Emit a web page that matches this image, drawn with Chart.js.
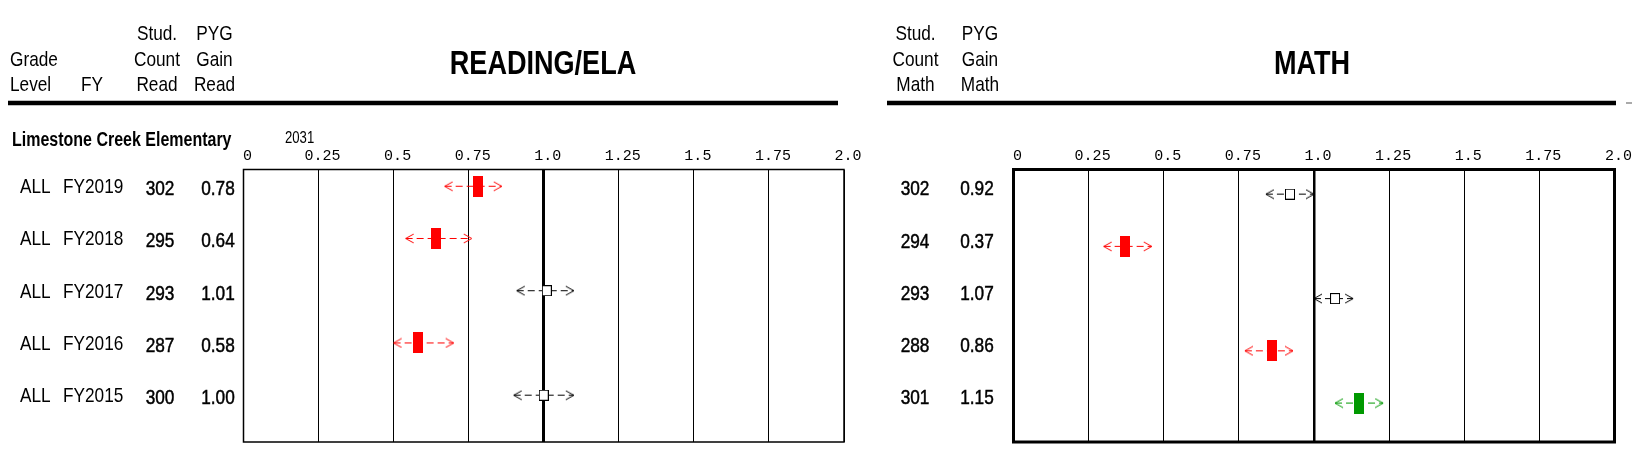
<!DOCTYPE html>
<html>
<head>
<meta charset="utf-8">
<script src="https://cdn.jsdelivr.net/npm/chart.js@4.4.1/dist/chart.umd.min.js"></script>
<style>
  html, body { margin: 0; padding: 0; background: #fff; }
  #wrap { position: relative; width: 1632px; height: 472px; }
  #wrap canvas { position: absolute; left: 0; top: 0; }
</style>
</head>
<body>
<div id="wrap">
  <canvas id="readingChart" width="1632" height="472"></canvas>
  <canvas id="mathChart" width="1632" height="472"></canvas>
</div>
<script>
// rows, top to bottom
const gradeLevels = ['ALL', 'ALL', 'ALL', 'ALL', 'ALL'];
const fiscalYears = ['FY2019', 'FY2018', 'FY2017', 'FY2016', 'FY2015'];

const readCounts = [302, 295, 293, 287, 300];
const readGain = [0.78, 0.64, 1.01, 0.58, 1.00];
const readLow = [0.67, 0.54, 0.91, 0.50, 0.90];
const readHigh = [0.86, 0.76, 1.10, 0.70, 1.10];
const readStatus = ['below', 'below', 'met', 'below', 'met'];

const mathCounts = [302, 294, 293, 288, 301];
const mathGain = [0.92, 0.37, 1.07, 0.86, 1.15];
const mathLow = [0.84, 0.30, 1.00, 0.77, 1.07];
const mathHigh = [1.00, 0.46, 1.13, 0.93, 1.23];
const mathStatus = ['met', 'below', 'met', 'below', 'above'];

const tickValues = [0, 0.25, 0.5, 0.75, 1.0, 1.25, 1.5, 1.75, 2.0];
const tickLabels = ['0', '0.25', '0.5', '0.75', '1.0', '1.25', '1.5', '1.75', '2.0'];

// no Arial Narrow here, so squeeze Liberation Sans sideways
const SANS = "'Liberation Sans', Arial, sans-serif";
const SQUEEZE = 0.82;
const MONO = "'Liberation Mono', 'DejaVu Sans Mono', monospace";
const statusColor = { below: '#ff0000', met: '#000000', above: '#009900' };

// little "<" and ">" heads, tip sits on the canvas centre
function chevron(dir, color) {
    const c = document.createElement('canvas');
    c.width = 18; c.height = 11;
    const g = c.getContext('2d');
    g.strokeStyle = color;
    g.lineWidth = 1;
    g.beginPath();
    if (dir === 'left') {
        g.moveTo(17, 1); g.lineTo(9, 5.5); g.lineTo(17, 10);
    } else {
        g.moveTo(1, 1); g.lineTo(9, 5.5); g.lineTo(1, 10);
    }
    g.stroke();
    return c;
}

function markerBox(status) {
    const c = document.createElement('canvas');
    const g = c.getContext('2d');
    if (status === 'met') {
        c.width = 10; c.height = 11;
        g.fillStyle = '#fff';
        g.fillRect(0, 0, 10, 11);
        g.strokeStyle = '#000';
        g.lineWidth = 1;
        g.strokeRect(0.5, 0.5, 9, 10);
    } else {
        c.width = 10; c.height = 21;
        g.fillStyle = statusColor[status];
        g.fillRect(0, 0, 10, 21);
    }
    return c;
}

const chevrons = {};
const markers = {};
Object.keys(statusColor).forEach(s => {
    chevrons[s] = { left: chevron('left', statusColor[s]), right: chevron('right', statusColor[s]) };
    markers[s] = markerBox(s);
});

function squeezedText(ctx, txt, x, y, heavy) {
    ctx.save();
    ctx.translate(x, y);
    ctx.scale(SQUEEZE, 1);
    ctx.fillText(txt, 0, 0);
    if (heavy) {
        ctx.lineWidth = 0.5;
        ctx.strokeText(txt, 0, 0);
    }
    ctx.restore();
}

const decorPlugin = {
    id: 'decor',
    afterDraw(chart, args, opts) {
        const ctx = chart.ctx;
        const a = chart.chartArea;
        ctx.save();
        (opts.rules || []).forEach(r => {
            ctx.fillStyle = r.color || '#000';
            ctx.fillRect(r.x1, r.y - r.w / 2, r.x2 - r.x1, r.w);
        });
        ctx.fillStyle = '#000';
        ctx.strokeStyle = '#000';
        (opts.texts || []).forEach(t => {
            ctx.font = t.font;
            ctx.textAlign = t.align || 'left';
            ctx.textBaseline = 'alphabetic';
            squeezedText(ctx, t.text, t.x, t.y, false);
        });
        ctx.lineWidth = opts.frameWidth;
        ctx.strokeRect(a.left, a.top, a.right - a.left, a.bottom - a.top);

        const y = chart.scales.y;
        (opts.columns || []).forEach(col => {
            ctx.font = col.font;
            ctx.textAlign = col.align;
            ctx.textBaseline = 'middle';
            col.values.forEach((v, i) => {
                const py = y.getPixelForValue(i) + opts.rowShift + (col.dy || 0);
                const txt = col.digits ? v.toFixed(col.digits) : String(v);
                squeezedText(ctx, txt, col.x, py, col.heavy);
            });
        });
        ctx.restore();
    }
};

function buildPanel(id, p) {
    const datasets = [{
        label: 'gain',
        data: p.gain.map((v, i) => ({ x: v, y: i })),
        pointStyle: ctx => markers[p.status[ctx.dataIndex]],
        pointRadius: 5,
        order: 0
    }];
    p.low.forEach((lo, i) => {
        const st = p.status[i];
        datasets.push({
            label: 'range' + i,
            data: [{ x: lo, y: i }, { x: p.high[i], y: i }],
            showLine: true,
            borderColor: statusColor[st],
            borderWidth: 1,
            borderDash: [7, 4],
            pointStyle: ctx => ctx.dataIndex === 0 ? chevrons[st].left : chevrons[st].right,
            pointRadius: 5,
            order: 1
        });
    });

    return new Chart(document.getElementById(id), {
        type: 'scatter',
        data: { datasets: datasets },
        options: {
            responsive: false,
            animation: false,
            events: [],
            layout: { padding: p.padding },
            plugins: {
                legend: { display: false },
                tooltip: { enabled: false },
                decor: {
                    texts: p.texts,
                    rules: p.rules,
                    columns: p.columns,
                    frameWidth: p.frameWidth,
                    rowShift: p.rowShift
                }
            },
            scales: {
                x: {
                    type: 'linear',
                    position: 'top',
                    min: 0,
                    max: 2,
                    afterBuildTicks: axis => { axis.ticks = tickValues.map(v => ({ value: v })); },
                    ticks: {
                        callback: (v, i) => tickLabels[i],
                        font: { family: MONO, size: 15 },
                        color: '#000',
                        padding: 4,
                        labelOffset: 4,
                        maxRotation: 0,
                        autoSkip: false
                    },
                    grid: {
                        color: '#000',
                        lineWidth: ctx => (ctx.tick && ctx.tick.value === 1) ? p.parWidth : 1,
                        drawTicks: false
                    },
                    border: { display: false }
                },
                y: {
                    type: 'linear',
                    display: false,
                    reverse: true,
                    min: p.yMin,
                    max: p.yMax
                }
            }
        },
        plugins: [decorPlugin]
    });
}

const hdr = '21px ' + SANS;
const rowFont = '21px ' + SANS;
const titleFont = 'bold 33px ' + SANS;

buildPanel('readingChart', {
    gain: readGain, low: readLow, high: readHigh, status: readStatus,
    padding: { left: 243.5, right: 1632 - 844, top: 143.5, bottom: 30 },
    yMin: -0.321, yMax: 4.896,
    frameWidth: 1.5, parWidth: 3, rowShift: 3,
    rules: [{ x1: 8, x2: 838, y: 103, w: 4.5 }],
    texts: [
        { text: 'Grade', x: 10, y: 65.5, font: hdr },
        { text: 'Level', x: 10, y: 91, font: hdr },
        { text: 'FY', x: 81, y: 91, font: hdr },
        { text: 'Stud.', x: 157, y: 40, font: hdr, align: 'center' },
        { text: 'Count', x: 157, y: 65.5, font: hdr, align: 'center' },
        { text: 'Read', x: 157, y: 91, font: hdr, align: 'center' },
        { text: 'PYG', x: 214.5, y: 40, font: hdr, align: 'center' },
        { text: 'Gain', x: 214.5, y: 65.5, font: hdr, align: 'center' },
        { text: 'Read', x: 214.5, y: 91, font: hdr, align: 'center' },
        { text: 'READING/ELA', x: 543, y: 74, font: titleFont, align: 'center' },
        { text: 'Limestone Creek Elementary', x: 12, y: 146, font: 'bold 19.5px ' + SANS },
        { text: '2031', x: 285, y: 143, font: '16px ' + SANS }
    ],
    columns: [
        { values: gradeLevels, x: 20, align: 'left', font: rowFont, dy: -2 },
        { values: fiscalYears, x: 63, align: 'left', font: rowFont, dy: -2 },
        { values: readCounts, x: 160, align: 'center', font: rowFont, heavy: true },
        { values: readGain, x: 218, align: 'center', font: rowFont, heavy: true, digits: 2 }
    ]
});

buildPanel('mathChart', {
    gain: mathGain, low: mathLow, high: mathHigh, status: mathStatus,
    padding: { left: 1013.5, right: 1632 - 1614.5, top: 143.5, bottom: 30 },
    yMin: -0.472, yMax: 4.745,
    frameWidth: 3, parWidth: 2.5, rowShift: -4.5,
    rules: [
        { x1: 887, x2: 1616, y: 103, w: 4.5 },
        { x1: 1626, x2: 1632, y: 103, w: 2, color: '#aaa' }
    ],
    texts: [
        { text: 'Stud.', x: 915.5, y: 40, font: hdr, align: 'center' },
        { text: 'Count', x: 915.5, y: 65.5, font: hdr, align: 'center' },
        { text: 'Math', x: 915.5, y: 91, font: hdr, align: 'center' },
        { text: 'PYG', x: 980, y: 40, font: hdr, align: 'center' },
        { text: 'Gain', x: 980, y: 65.5, font: hdr, align: 'center' },
        { text: 'Math', x: 980, y: 91, font: hdr, align: 'center' },
        { text: 'MATH', x: 1312, y: 74, font: titleFont, align: 'center' }
    ],
    columns: [
        { values: mathCounts, x: 915, align: 'center', font: rowFont, heavy: true },
        { values: mathGain, x: 977, align: 'center', font: rowFont, heavy: true, digits: 2 }
    ]
});
</script>
</body>
</html>
